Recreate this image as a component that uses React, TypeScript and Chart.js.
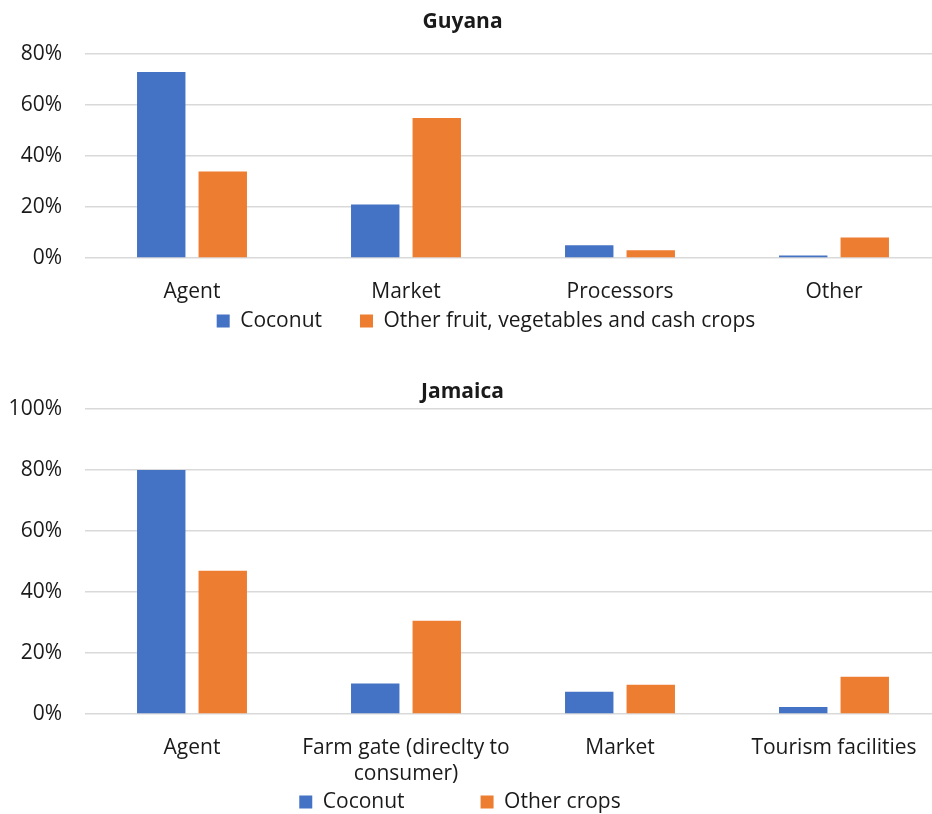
import React, { useEffect, useRef } from "react";
import { Chart, registerables } from "chart.js";

Chart.register(...registerables);

const guyanaCategories = ["Agent", "Market", "Processors", "Other"];
const guyanaCoconut = [73, 21, 5, 1];
const guyanaOther = [34, 55, 3, 8];
const guyanaSeriesNames = ["Coconut", "Other fruit, vegetables and cash crops"];

const jamaicaCategories = [
  "Agent",
  ["Farm gate (direclty to", "consumer)"],
  "Market",
  "Tourism facilities",
];
const jamaicaCoconut = [80, 10, 7.3, 2.3];
const jamaicaOther = [47, 30.6, 9.6, 12.2];
const jamaicaSeriesNames = ["Coconut", "Other crops"];

const BLUE = "#4472C4";
const ORANGE = "#ED7D31";
const GRID = "#D9D9D9";
const TEXT = "#1a1a1a";
const FONT = "'Open Sans', Lato, sans-serif";
const FS = 21;
const CW = 941;

type Cfg = {
  title: string;
  categories: any[];
  a: number[];
  b: number[];
  names: string[];
  yMax: number;
  titlePad: { top: number; bottom: number };
  titleShiftX: number;
  xAxisHeight: number;
  xTickPad: number;
  legendPad: number;
  legendShiftX: number;
  legendShiftY: number;
};

function BarChart({ cfg, top, height }: { cfg: Cfg; top: number; height: number }) {
  const ref = useRef<HTMLCanvasElement | null>(null);
  useEffect(() => {
    if (!ref.current) return;
    const shift = {
      id: "shiftBoxes",
      afterLayout(chart: any) {
        const lg = chart.legend;
        if (lg) {
          lg.left += cfg.legendShiftX;
          lg.right += cfg.legendShiftX;
          lg.top += cfg.legendShiftY;
          lg.bottom += cfg.legendShiftY;
        }
        const tb = chart.titleBlock;
        if (tb) {
          tb.left += cfg.titleShiftX;
          tb.right += cfg.titleShiftX;
        }
      },
    };
    const chart = new Chart(ref.current, {
      type: "bar",
      data: {
        labels: cfg.categories,
        datasets: [
          {
            label: cfg.names[0],
            data: cfg.a,
            backgroundColor: BLUE,
            categoryPercentage: 0.575,
            barPercentage: 0.787,
          },
          {
            label: cfg.names[1],
            data: cfg.b,
            backgroundColor: ORANGE,
            categoryPercentage: 0.575,
            barPercentage: 0.787,
          },
        ],
      },
      options: {
        animation: false,
        responsive: false,
        maintainAspectRatio: false,
        layout: { padding: 0 },
        plugins: {
          tooltip: { enabled: false },
          title: {
            display: true,
            text: cfg.title,
            color: TEXT,
            font: { family: FONT, size: FS, weight: "bold", lineHeight: 1.2 },
            padding: cfg.titlePad,
          },
          legend: {
            position: "bottom",
            labels: {
              color: TEXT,
              font: { family: FONT, size: FS },
              boxWidth: 13,
              boxHeight: 13,
              padding: cfg.legendPad,
            },
          },
        },
        scales: {
          x: {
            grid: { display: false, drawTicks: false },
            border: { display: false },
            ticks: {
              color: TEXT,
              font: { family: FONT, size: FS, lineHeight: 26 / FS },
              padding: cfg.xTickPad,
              maxRotation: 0,
              autoSkip: false,
            },
            afterFit(scale: any) {
              scale.height = cfg.xAxisHeight;
            },
          },
          y: {
            min: 0,
            max: cfg.yMax,
            grid: { color: GRID, lineWidth: 1.5, drawTicks: false },
            border: { display: false },
            ticks: {
              stepSize: 20,
              color: TEXT,
              font: { family: FONT, size: FS },
              padding: 23,
              callback: (v: any) => v + "%",
            },
            afterFit(scale: any) {
              scale.width = 85;
            },
          },
        },
      },
      plugins: [shift],
    } as any);
    return () => chart.destroy();
  }, []);
  return (
    <canvas
      ref={ref}
      width={CW}
      height={height}
      style={{ position: "absolute", left: 0, top, width: CW, height }}
    />
  );
}

const guyanaCfg: Cfg = {
  title: "Guyana",
  categories: guyanaCategories,
  a: guyanaCoconut,
  b: guyanaOther,
  names: guyanaSeriesNames,
  yMax: 80,
  titlePad: { top: 9, bottom: 20 },
  titleShiftX: -8,
  xAxisHeight: 48,
  xTickPad: 21,
  legendPad: 38,
  legendShiftX: 15.5,
  legendShiftY: -33.5,
};

const jamaicaCfg: Cfg = {
  title: "Jamaica",
  categories: jamaicaCategories,
  a: jamaicaCoconut,
  b: jamaicaOther,
  names: jamaicaSeriesNames,
  yMax: 100,
  titlePad: { top: 19, bottom: 4.8 },
  titleShiftX: -8,
  xAxisHeight: 73,
  xTickPad: 21,
  legendPad: 76,
  legendShiftX: -10.5,
  legendShiftY: -71.5,
};

export default function App() {
  return (
    <div
      style={{
        position: "fixed",
        left: 0,
        top: 0,
        width: 932,
        height: 814,
        overflow: "hidden",
        background: "#fff",
      }}
    >
      <BarChart cfg={guyanaCfg} top={0} height={375} />
      <BarChart cfg={jamaicaCfg} top={360} height={534} />
    </div>
  );
}
